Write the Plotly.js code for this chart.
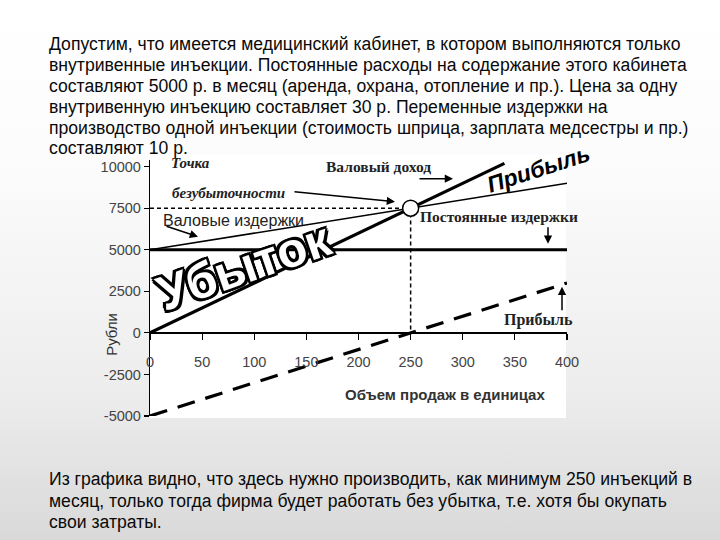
<!DOCTYPE html>
<html>
<head>
<meta charset="utf-8">
<script src="https://cdn.plot.ly/plotly-3.0.1.min.js"></script>
<style>
  html, body { margin: 0; padding: 0; }
  body { width: 720px; height: 540px; overflow: hidden;
    background: linear-gradient(to bottom, #ffffff 0%, #fcfcfc 30%, #ededed 72%, #d9d9d9 100%); }
  #chart { width: 720px; height: 540px; }
</style>
</head>
<body>
<div id="chart"></div>
<script>
// ---- data ----
const volume = [0, 50, 100, 150, 200, 250, 300, 350, 400];
const fixedCosts = [5000, 5000, 5000, 5000, 5000, 5000, 5000, 5000, 5000];
const totalCosts = [5000, 5500, 6000, 6500, 7000, 7500, 8000, 8500, 9000];
const profit = [-5000, -4000, -3000, -2000, -1000, 0, 1000, 2000, 3000];
const revenueVolume = [0, 50, 100, 150, 200, 250, 300, 340];
const revenue = [0, 1500, 3000, 4500, 6000, 7500, 9000, 10200];
const breakEvenGuideX = [0, 250, 250];
const breakEvenGuideY = [7500, 7500, 0];
const breakEvenPointX = [250];
const breakEvenPointY = [7500];
const xTickVals = [0, 50, 100, 150, 200, 250, 300, 350, 400];
const xTickLabels = ['0', '50', '100', '150', '200', '250', '300', '350', '400'];
const yTickVals = [10000, 7500, 5000, 2500, 0, -2500, -5000];
const yTickLabels = ['10000', '7500', '5000', '2500', '0', '-2500', '-5000'];

const paragraphTop = [
  'Допустим, что имеется медицинский кабинет, в котором выполняются только',
  'внутривенные инъекции. Постоянные расходы на содержание этого кабинета',
  'составляют 5000 р. в месяц (аренда, охрана, отопление и пр.). Цена за одну',
  'внутривенную инъекцию составляет 30 р. Переменные издержки на',
  'производство одной инъекции (стоимость шприца, зарплата медсестры и пр.)',
  'составляют 10 р.'
];
const paragraphBottom = [
  'Из графика видно, что здесь нужно производить, как минимум 250 инъекций в',
  'месяц, только тогда фирма будет работать без убытка, т.е. хотя бы окупать',
  'свои затраты.'
];

// ---- layout geometry (pixels) ----
const W = 720, H = 540;
const L = 150, R = 567, T = 160.4, B = 416;
const yMin = -5000, yMax = 10400;
function px(X) { return (X - L) / (R - L); }
function py(Y) { return (B - Y) / (B - T); }

const sans = 'Liberation Sans, Arial, sans-serif';
const serif = 'Liberation Serif, Times New Roman, serif';

const traces = [
  { x: volume, y: fixedCosts, mode: 'lines', line: { color: '#000', width: 3 }, hoverinfo: 'skip' },
  { x: volume, y: totalCosts, mode: 'lines', line: { color: '#000', width: 1.5 }, hoverinfo: 'skip' },
  { x: revenueVolume, y: revenue, mode: 'lines', line: { color: '#000', width: 3.2 }, hoverinfo: 'skip' },
  { x: volume, y: profit, mode: 'lines', line: { color: '#000', width: 3.2, dash: '18px,11px' }, hoverinfo: 'skip' },
  { x: breakEvenGuideX, y: breakEvenGuideY, mode: 'lines', line: { color: '#000', width: 1.5, dash: '4px,3px' }, hoverinfo: 'skip' },
  { x: breakEvenPointX, y: breakEvenPointY, mode: 'markers',
    marker: { size: 16, color: '#fff', line: { color: '#000', width: 1.5 } }, hoverinfo: 'skip' }
];

const annotations = [];
paragraphTop.forEach((t, i) => {
  annotations.push({ xref: 'paper', yref: 'paper', x: px(47), y: py([45, 66, 87, 107, 128, 148][i]),
    xanchor: 'left', yanchor: 'middle', showarrow: false, text: t,
    font: { family: sans, size: 17.6, color: '#0a0a0a' } });
});
paragraphBottom.forEach((t, i) => {
  annotations.push({ xref: 'paper', yref: 'paper', x: px(47), y: py([479, 501, 522][i]),
    xanchor: 'left', yanchor: 'middle', showarrow: false, text: t,
    font: { family: sans, size: 17.6, color: '#0a0a0a' } });
});

function label(text, X, Y, font, angle) {
  annotations.push({ xref: 'paper', yref: 'paper', x: px(X), y: py(Y), xanchor: 'center', yanchor: 'middle',
    showarrow: false, text: text, font: font, textangle: angle || 0 });
}
function arrow(headX, headY, tailX, tailY) {
  annotations.push({ xref: 'paper', yref: 'paper', x: px(headX), y: py(headY), ax: tailX - headX, ay: tailY - headY,
    text: '', showarrow: true, arrowhead: 2, arrowsize: 1.1, arrowwidth: 1.5, arrowcolor: '#000', standoff: 0, startstandoff: 0 });
}

label('<b><i>Точка</i></b>', 190, 163, { family: serif, size: 15, color: '#222' });
label('<b><i>безубыточности</i></b>', 228, 193, { family: serif, size: 15, color: '#222' });
label('Валовые издержки', 233, 221, { family: sans, size: 16, color: '#222' });
label('<b>Валовый доход</b>', 378, 167, { family: serif, size: 15.5, color: '#222' });
label('<b><i>Прибыль</i></b>', 538, 169, { family: sans, size: 23, color: '#000' }, -18);
label('<b>Постоянные издержки</b>', 499, 217, { family: serif, size: 15.5, color: '#222' });
label('<b>Прибыль</b>', 538, 320, { family: serif, size: 16, color: '#222' });
label('<b>Убыток</b>', 244, 266, { family: sans, size: 49, color: '#fff',
  shadow: '2.5px 2.5px 0 #000, -2.5px -2.5px 0 #000, 2.5px -2.5px 0 #000, -2.5px 2.5px 0 #000, 0 2.5px 0 #000, 2.5px 0 0 #000, 0 -2.5px 0 #000, -2.5px 0 0 #000' }, -19);
label('<b>Объем продаж в единицах</b>', 445, 395, { family: sans, size: 15, color: '#333' });
label('Рубли', 112, 335, { family: sans, size: 15, color: '#333' }, -90);

arrow(395, 202, 293, 192);
arrow(198, 237, 165, 226);
arrow(453, 179, 418, 179);
arrow(548, 244, 548, 226);
arrow(562, 287, 562, 312);

const layout = {
  width: W, height: H,
  margin: { l: L, r: W - R, t: T, b: H - B, pad: 0 },
  paper_bgcolor: 'rgba(0,0,0,0)',
  plot_bgcolor: 'rgba(0,0,0,0)',
  showlegend: false,
  xaxis: {
    range: [0, 400], anchor: 'free', position: (0 - yMin) / (yMax - yMin),
    tickvals: xTickVals, ticktext: xTickLabels,
    showline: true, linecolor: '#000', linewidth: 2.5,
    ticks: 'outside', ticklen: 6, tickwidth: 1.2, tickcolor: '#000',
    ticklabelstandoff: 9,
    showgrid: false, zeroline: false,
    tickfont: { family: sans, size: 14.5, color: '#444' }
  },
  yaxis: {
    range: [yMin, yMax],
    tickvals: yTickVals, ticktext: yTickLabels,
    showline: true, linecolor: '#000', linewidth: 1.2,
    ticks: 'outside', ticklen: 5, tickwidth: 1.2, tickcolor: '#000',
    showgrid: false, zeroline: false,
    tickfont: { family: sans, size: 14.5, color: '#444' }
  },
  shapes: [
    { type: 'rect', xref: 'paper', yref: 'paper', layer: 'below',
      x0: px(150), x1: px(566), y0: py(418), y1: py(155),
      fillcolor: '#ffffff', line: { width: 0 } }
  ],
  annotations: annotations
};

Plotly.newPlot('chart', traces, layout, { staticPlot: true, displayModeBar: false });
</script>
</body>
</html>
